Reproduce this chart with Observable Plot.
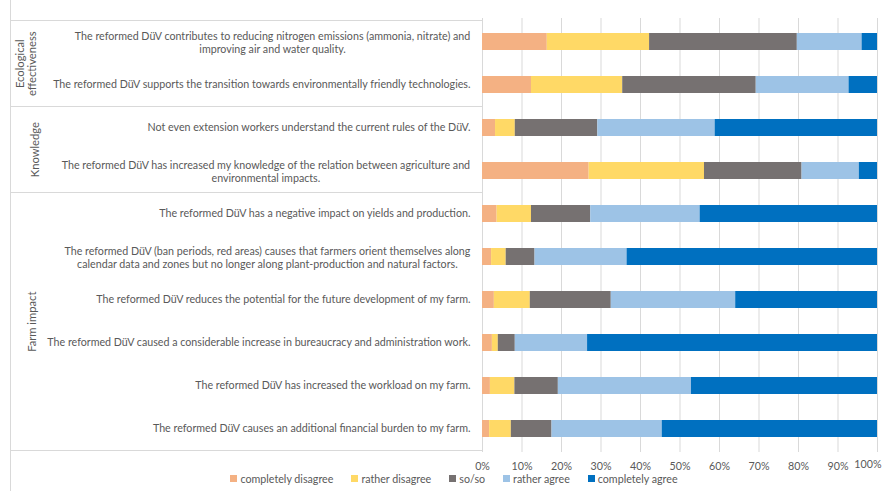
<!DOCTYPE html>
<html>
<head>
<meta charset="utf-8">
<script src="https://cdn.jsdelivr.net/npm/d3@7"></script>
<script src="https://cdn.jsdelivr.net/npm/@observablehq/plot@0.6"></script>
<style>
  html, body { margin: 0; padding: 0; background: #fff; }
  #wrap { position: relative; width: 882px; height: 491px; overflow: hidden; }
  #legend { position: absolute; left: 0; top: 472px; width: 882px; display: flex; justify-content: center; padding-left: 44px; box-sizing: border-box; }
  .lg-swatches-wrap { min-height: 0 !important; margin: 0 !important; }
  .lg-swatches { margin: 0 !important; }
  .lg-swatch { margin-right: 18px !important; }
  .lg-swatch > svg { margin-right: 3px !important; }
</style>
</head>
<body>
<div id="wrap"></div>
<script>
// ---------- data ----------
const categories = ["completely disagree", "rather disagree", "so/so", "rather agree", "completely agree"];
const palette = ["#F4B183", "#FFD966", "#767171", "#9DC3E6", "#0070C0"];

const statements = [
  "The reformed DüV contributes to reducing nitrogen emissions (ammonia, nitrate) and\nimproving air and water quality.",
  "The reformed DüV supports the transition towards environmentally friendly technologies.",
  "Not even extension workers understand the current rules of the DüV.",
  "The reformed DüV has increased my knowledge of the relation between agriculture and\nenvironmental impacts.",
  "The reformed DüV has a negative impact on yields and production.",
  "The reformed DüV (ban periods, red areas) causes that farmers orient themselves along\ncalendar data and zones but no longer along plant-production and natural factors.",
  "The reformed DüV reduces the potential for the future development of my farm.",
  "The reformed DüV caused a considerable increase in bureaucracy and administration work.",
  "The reformed DüV has increased the workload on my farm.",
  "The reformed DüV causes an additional financial burden to my farm."
];
const groupNames = ["Ecological\neffectiveness", "Knowledge", "Farm impact"];
const groupSizes = [2, 2, 6];

const completelyDisagree = [16.4, 12.4, 3.3, 27.0, 3.7, 2.3, 3.0, 2.5, 2.0, 1.8];
const ratherDisagree     = [25.9, 23.1, 5.0, 29.2, 8.7, 3.7, 9.1, 1.5, 6.2, 5.5];
const soSo               = [37.4, 33.8, 20.9, 24.7, 15.0, 7.3, 20.5, 4.3, 11.0, 10.3];
const ratherAgree        = [16.4, 23.5, 29.7, 14.5, 27.7, 23.3, 31.5, 18.3, 33.7, 27.9];
const completelyAgree    = [3.9, 7.2, 41.1, 4.6, 44.9, 63.4, 35.9, 73.4, 47.1, 54.5];
const xTicks = [0, 10, 20, 30, 40, 50, 60, 70, 80, 90, 100];

// ---------- build table ----------
const series = [completelyDisagree, ratherDisagree, soSo, ratherAgree, completelyAgree];
const rows = [];
statements.forEach((s, i) => {
  categories.forEach((c, j) => rows.push({statement: s, answer: c, value: series[j][i]}));
});

const W = 882, H = 491, mTop = 18, mBottom = 39, mLeft = 482, mRight = 5;
const step = (H - mTop - mBottom) / statements.length;
const FONT = "Lato, 'Open Sans', sans-serif";
const FS = 10.7;
const textColor = "#595959";

// measure widths for centering two-line labels
const ctx = document.createElement("canvas").getContext("2d");
ctx.font = `${FS}px Lato`;
const single = statements.filter(s => !s.includes("\n"));
const multi = statements.filter(s => s.includes("\n"));
const labelMarks = [
  Plot.text(single, {y: d => d, text: d => d, frameAnchor: "left", dx: -12, textAnchor: "end", fill: textColor, fontSize: FS})
];
multi.forEach(s => {
  const w1 = ctx.measureText(s.split("\n")[0]).width;
  labelMarks.push(Plot.text([s], {y: d => d, text: d => d, frameAnchor: "left", dx: -12 - w1 / 2, textAnchor: "middle", lineHeight: 1.3, fill: textColor, fontSize: FS}));
});

// group label anchors (middle of each group)
const groupAnchors = [];
let start = 0;
groupNames.forEach((g, k) => {
  groupAnchors.push({name: g, key: statements[start + groupSizes[k] / 2 - 1]});
  start += groupSizes[k];
});
const groupX = [26, 35, 32]; // horizontal centre of each rotated group label (px)
const groupMarks = groupAnchors.map((g, k) =>
  Plot.text([g], {y: "key", text: "name", frameAnchor: "left", dx: groupX[k] - mLeft, dy: step / 2, rotate: -90, textAnchor: "middle", lineHeight: 1.0, fill: textColor, fontSize: FS + 0.5})
);

const plot = Plot.plot({
  width: W, height: H,
  marginTop: mTop, marginBottom: mBottom, marginLeft: mLeft, marginRight: mRight,
  style: {fontFamily: FONT, fontSize: FS + "px", color: textColor, background: "#fff"},
  x: {domain: [0, 1], axis: null, label: null},
  y: {domain: statements, paddingInner: 0.6, paddingOuter: 0.3, axis: null},
  color: {domain: categories, range: palette},
  marks: [
    Plot.gridX(xTicks.map(t => t / 100), {stroke: "#D9D9D9", strokeOpacity: 1}),
    Plot.axisX(xTicks.slice(0, -1).map(t => t / 100), {tickFormat: d => Math.round(d * 100) + "%", tickSize: 0, tickPadding: 10, fill: textColor, fontSize: FS, label: null}),
    Plot.text([xTicks[xTicks.length - 1] / 100], {x: d => d, text: d => Math.round(d * 100) + "%", frameAnchor: "bottom", dy: 15, dx: 4, textAnchor: "end", fill: textColor, fontSize: FS}),
    Plot.barX(rows, Plot.stackX({y: "statement", x: "value", fill: "answer", offset: "normalize", order: null})),
    ...labelMarks,
    ...groupMarks
  ]
});

// table lines (computed from the plot's y scale)
const ys = plot.scale("y");
const svg = d3.select(plot);
const lineG = svg.append("g").attr("stroke", "#D9D9D9").attr("stroke-width", 1);
const boundaries = [0];
let acc = 0;
groupSizes.forEach(n => { acc += n; boundaries.push(acc); });
boundaries.forEach(b => {
  const y = b < statements.length
    ? ys.apply(statements[b]) - (step - ys.bandwidth) / 2
    : ys.apply(statements[b - 1]) + ys.bandwidth + (step - ys.bandwidth) / 2;
  lineG.append("line").attr("x1", 10).attr("x2", mLeft).attr("y1", Math.round(y) + 0.5).attr("y2", Math.round(y) + 0.5);
});
lineG.append("line").attr("x1", 10.5).attr("x2", 10.5).attr("y1", 0).attr("y2", H);

document.getElementById("wrap").appendChild(plot);

const legend = Plot.legend({
  color: {domain: categories, range: palette},
  legend: "swatches", className: "lg", swatchSize: 7,
  style: {fontFamily: FONT, fontSize: FS + "px", color: textColor}
});
const lg = document.createElement("div");
lg.id = "legend";
lg.appendChild(legend);
document.getElementById("wrap").appendChild(lg);
</script>
</body>
</html>
